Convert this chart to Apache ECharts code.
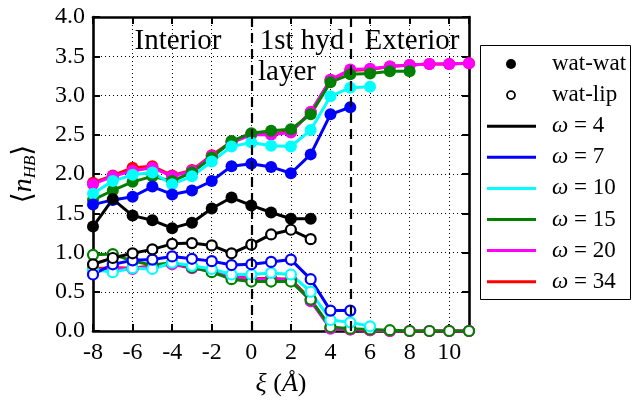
<!DOCTYPE html>
<html>
<head>
<meta charset="utf-8">
<script src="https://cdn.jsdelivr.net/npm/echarts@6/dist/echarts.min.js"></script>
<style>
  html, body { margin: 0; padding: 0; background: #fff; }
  #chart { width: 634px; height: 403px; }
</style>
</head>
<body>
<div id="chart"></div>
<script>
// Mean number of hydrogen bonds per water vs. position ξ (Å), for several ω.
// Every series starts at ξ = -8 and advances by 1 Å per value.
const xStart = -8;
const omegas = [4, 7, 10, 15, 20, 34];
const colors = ['#000000', '#0000ff', '#00ffff', '#008000', '#ff00ff', '#ff0000'];

// water–water hydrogen bonds (filled circles)
const watWat4  = [1.33, 1.68, 1.47, 1.41, 1.31, 1.38, 1.56, 1.70, 1.60, 1.51, 1.43, 1.43];
const watWat7  = [1.61, 1.67, 1.71, 1.84, 1.74, 1.79, 1.91, 2.10, 2.13, 2.09, 2.01, 2.25, 2.76, 2.85];
const watWat10 = [1.75, 1.91, 1.99, 2.02, 1.87, 1.97, 2.16, 2.35, 2.40, 2.36, 2.35, 2.56, 2.99, 3.10, 3.11];
const watWat15 = [1.67, 1.79, 1.90, 1.97, 1.91, 2.02, 2.21, 2.42, 2.52, 2.55, 2.57, 2.76, 3.17, 3.27, 3.28, 3.31, 3.31];
const watWat20 = [1.87, 1.97, 2.04, 2.08, 1.97, 2.04, 2.23, 2.40, 2.50, 2.50, 2.53, 2.79, 3.20, 3.33, 3.34, 3.37, 3.39, 3.40, 3.40, 3.41];
const watWat34 = [1.89, 1.98, 2.08, 2.10, 1.98, 2.05, 2.24, 2.41, 2.51, 2.51, 2.54, 2.79, 3.20, 3.32, 3.33, 3.37, 3.39, 3.40, 3.40, 3.41];

// water–lipid hydrogen bonds (open circles)
const watLip4  = [0.85, 0.93, 0.99, 1.04, 1.11, 1.12, 1.09, 0.99, 1.10, 1.23, 1.29, 1.17];
const watLip7  = [0.72, 0.85, 0.90, 0.91, 0.95, 0.92, 0.89, 0.84, 0.85, 0.88, 0.91, 0.66, 0.26, 0.26];
const watLip10 = [0.78, 0.75, 0.80, 0.79, 0.87, 0.83, 0.79, 0.72, 0.72, 0.74, 0.72, 0.50, 0.14, 0.11, 0.06];
const watLip15 = [0.97, 0.98, 0.89, 0.84, 0.87, 0.81, 0.75, 0.66, 0.63, 0.63, 0.63, 0.40, 0.05, 0.03, 0.02, 0.01, 0.00, 0.00, 0.00, 0.00];
const watLip20 = [0.77, 0.80, 0.79, 0.82, 0.85, 0.80, 0.76, 0.69, 0.66, 0.66, 0.65, 0.38, 0.03, 0.02, 0.01, 0.00, 0.00, 0.00, 0.00, 0.00];
const watLip34 = [0.79, 0.81, 0.80, 0.83, 0.86, 0.81, 0.77, 0.70, 0.67, 0.67, 0.66, 0.40, 0.04, 0.02, 0.01, 0.00, 0.00, 0.00, 0.00, 0.00];

// region boundaries (dashed lines) and region labels
const boundaries = [0, 5];
const regionLabels = ['Interior', '1st hyd', 'layer', 'Exterior'];
const legendMarkers = ['wat-wat', 'wat-lip'];

const watWatAll = [watWat4, watWat7, watWat10, watWat15, watWat20, watWat34];
const watLipAll = [watLip4, watLip7, watLip10, watLip15, watLip20, watLip34];

const serif = '"Liberation Serif", "DejaVu Serif", serif';
const toPairs = vals => vals.map((v, i) => [xStart + i, v]);

const series = [];
// draw the largest ω first so smaller ω sit on top
for (let k = omegas.length - 1; k >= 0; k--) {
  const c = colors[k];
  series.push({
    type: 'line', name: 'ω = ' + omegas[k] + ' wat-lip',
    data: toPairs(watLipAll[k]),
    symbol: 'circle', symbolSize: 10,
    itemStyle: { color: '#ffffff', borderColor: c, borderWidth: 2.2 },
    lineStyle: { color: c, width: 3 },
    emphasis: { disabled: true }, animation: false
  });
  series.push({
    type: 'line', name: 'ω = ' + omegas[k] + ' wat-wat',
    data: toPairs(watWatAll[k]),
    symbol: 'circle', symbolSize: 12,
    itemStyle: { color: c, borderWidth: 0 },
    lineStyle: { color: c, width: 3 },
    emphasis: { disabled: true }, animation: false
  });
}
// dashed region boundaries
series.push({
  type: 'line', data: [], silent: true, animation: false,
  markLine: {
    silent: true, symbol: 'none', animation: false,
    label: { show: false },
    lineStyle: { color: '#000', width: 2.2, type: [10, 6] },
    data: boundaries.map(b => ({ xAxis: b }))
  }
});

// legend drawn as graphic elements
const lgLeft = 480, lgTop = 45, lgRowH = 31.1, lgFirst = 64;
const legendGraphics = [{
  type: 'rect', left: lgLeft, top: lgTop, silent: true,
  shape: { width: 150, height: 254 },
  style: { fill: '#fff', stroke: '#000', lineWidth: 1 }
}];
legendMarkers.forEach((name, i) => {
  const cy = lgFirst + i * lgRowH;
  legendGraphics.push({
    type: 'circle', silent: true,
    shape: { cx: 511, cy: cy, r: i === 0 ? 5 : 4 },
    style: i === 0 ? { fill: '#000' } : { fill: '#fff', stroke: '#000', lineWidth: 1.8 }
  });
  legendGraphics.push({
    type: 'text', silent: true, x: 552, y: cy,
    style: { text: name, fill: '#000', font: '23px ' + serif, verticalAlign: 'middle' }
  });
});
omegas.forEach((w, i) => {
  const cy = lgFirst + (i + 2) * lgRowH;
  legendGraphics.push({
    type: 'line', silent: true,
    shape: { x1: 487, y1: cy, x2: 536, y2: cy },
    style: { stroke: colors[i], lineWidth: 3 }
  });
  legendGraphics.push({
    type: 'text', silent: true, x: 552, y: cy,
    style: {
      text: '{i|ω} = ' + w, fill: '#000', font: '23px ' + serif, verticalAlign: 'middle',
      rich: { i: { fontStyle: 'italic', fontFamily: serif, fontSize: 23 } }
    }
  });
});

const regionText = (text, x, y) => ({
  type: 'text', silent: true, x: x, y: y,
  style: { text: text, fill: '#000', font: '29px ' + serif, align: 'center', verticalAlign: 'middle' }
});

const chart = echarts.init(document.getElementById('chart'), null, { renderer: 'canvas' });
chart.setOption({
  backgroundColor: '#ffffff',
  animation: false,
  grid: { left: 93, right: 165, top: 17, bottom: 72 },
  xAxis: [{
    type: 'value', min: -8, max: 11, interval: 2,
    name: '{i|ξ} ({i|Å})', nameLocation: 'middle', nameGap: 40,
    nameTextStyle: {
      fontFamily: serif, fontSize: 26, color: '#000',
      rich: { i: { fontStyle: 'italic', fontFamily: serif, fontSize: 26, color: '#000' } }
    },
    axisLine: { onZero: false, lineStyle: { color: '#000', width: 2.6 } },
    axisTick: { inside: true, length: 7, lineStyle: { color: '#000', width: 2 } },
    axisLabel: { showMaxLabel: false, color: '#000', fontFamily: serif, fontSize: 24, margin: 10 },
    splitLine: { show: true, lineStyle: { color: '#000', width: 1, type: [1, 3] } }
  }, {
    type: 'value', min: -8, max: 11, interval: 2, position: 'top',
    axisLine: { onZero: false, lineStyle: { color: '#000', width: 2.6 } },
    axisTick: { inside: true, length: 7, lineStyle: { color: '#000', width: 2 } },
    axisLabel: { show: false }, splitLine: { show: false }
  }],
  yAxis: [{
    type: 'value', min: 0, max: 4, interval: 0.5,
    name: '{a|⟨}{n|n}{s|HB}{a|⟩}', nameLocation: 'middle', nameGap: 54, nameRotate: 90,
    nameTextStyle: {
      color: '#000',
      rich: {
        a: { fontFamily: serif, fontSize: 28, color: '#000' },
        n: { fontFamily: serif, fontSize: 28, fontStyle: 'italic', color: '#000' },
        s: { fontFamily: serif, fontSize: 17, fontStyle: 'italic', color: '#000', padding: [14, 0, 0, 0] }
      }
    },
    axisLine: { onZero: false, lineStyle: { color: '#000', width: 2.6 } },
    axisTick: { inside: true, length: 7, lineStyle: { color: '#000', width: 2 } },
    axisLabel: { formatter: v => v.toFixed(1), color: '#000', fontFamily: serif, fontSize: 24, margin: 8 },
    splitLine: { show: true, lineStyle: { color: '#000', width: 1, type: [1, 3] } }
  }, {
    type: 'value', min: 0, max: 4, interval: 0.5, position: 'right',
    axisLine: { onZero: false, lineStyle: { color: '#000', width: 2.6 } },
    axisTick: { inside: true, length: 7, lineStyle: { color: '#000', width: 2 } },
    axisLabel: { show: false }, splitLine: { show: false }
  }],
  series: series,
  graphic: [
    regionText(regionLabels[0], 178, 41),
    regionText(regionLabels[1], 302, 41),
    regionText(regionLabels[2], 287, 72),
    regionText(regionLabels[3], 412, 41)
  ].concat(legendGraphics)
});
</script>
</body>
</html>
